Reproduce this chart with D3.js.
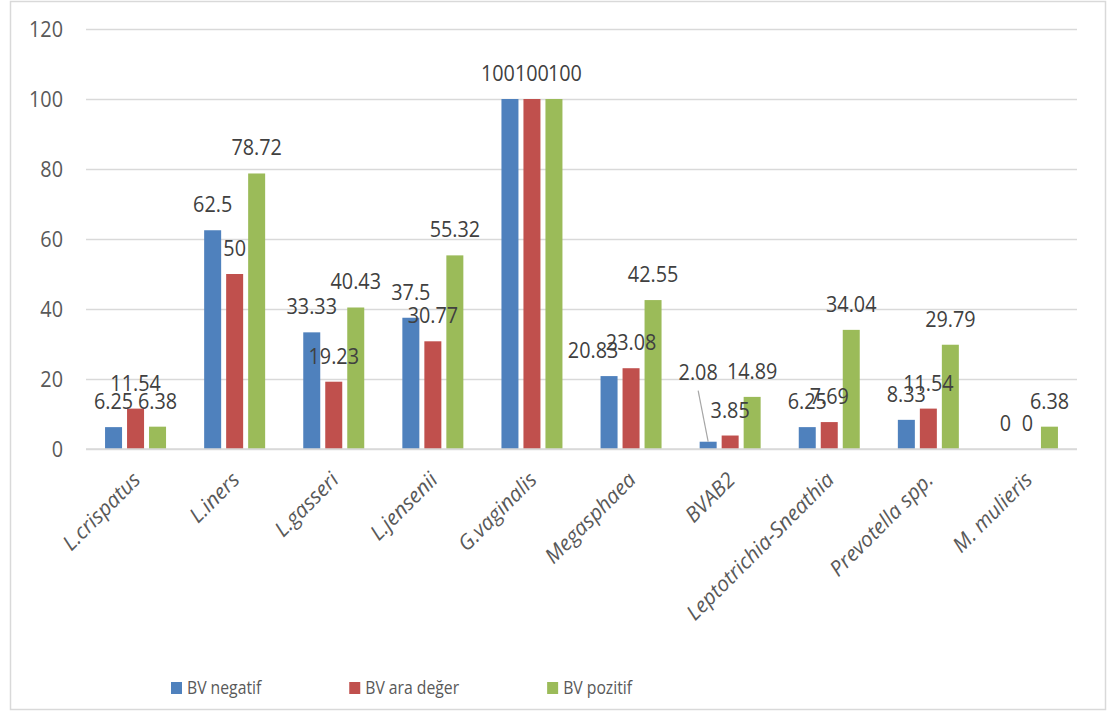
<!DOCTYPE html>
<html>
<head>
<meta charset="utf-8">
<script src="https://cdn.jsdelivr.net/npm/d3@7"></script>
<style>
  html, body { margin: 0; padding: 0; background: #fff; }
  svg { display: block; font-family: "Open Sans", "Noto Sans", sans-serif; }
</style>
</head>
<body>
<svg id="chart" width="1118" height="713"></svg>
<script>
// Bacteria detected per BV group (%)
const categories = ["L.crispatus", "L.iners", "L.gasseri", "L.jensenii", "G.vaginalis",
  "Megasphaea", "BVAB2", "Leptotrichia-Sneathia", "Prevotella spp.", "M. mulieris"];
const seriesNames = ["BV negatif", "BV ara değer", "BV pozitif"];
const bvNegatif = [6.25, 62.5, 33.33, 37.5, 100, 20.83, 2.08, 6.25, 8.33, 0];
const bvAraDeger = [11.54, 50, 19.23, 30.77, 100, 23.08, 3.85, 7.69, 11.54, 0];
const bvPozitif = [6.38, 78.72, 40.43, 55.32, 100, 42.55, 14.89, 34.04, 29.79, 6.38];
const yTicks = [0, 20, 40, 60, 80, 100, 120];

const seriesValues = [bvNegatif, bvAraDeger, bvPozitif];
const colors = ["#4F81BD", "#C0504D", "#9BBB59"];

const svg = d3.select("#chart");
const plot = { left: 86, right: 1077, top: 29, bottom: 449 };
const squeeze = 0.9; // narrow glyph width for upright texts

// outer chart frame
svg.append("rect")
  .attr("x", 10.5).attr("y", 1.5)
  .attr("width", 1095).attr("height", 708)
  .attr("fill", "#fff").attr("stroke", "#d9d9d9").attr("stroke-width", 1.5);

const x = d3.scaleBand().domain(categories).range([plot.left, plot.right]).padding(0);
const groupWidth = x.bandwidth() * 0.6155;
const xs = d3.scaleBand().domain(seriesNames)
  .range([(x.bandwidth() - groupWidth) / 2, (x.bandwidth() + groupWidth) / 2])
  .paddingInner(5 / 22).paddingOuter(0);
const y = d3.scaleLinear().domain([0, 120]).range([plot.bottom, plot.top]);

// horizontal gridlines and value axis labels
const yAxis = d3.axisLeft(y).tickValues(yTicks).tickSize(-(plot.right - plot.left)).tickPadding(23);
const gy = svg.append("g").attr("transform", `translate(${plot.left},0)`).call(yAxis);
gy.select(".domain").remove();
gy.selectAll(".tick line").attr("stroke", "#d9d9d9").attr("stroke-width", 1.5);
gy.selectAll(".tick text")
  .attr("x", 0)
  .attr("transform", `translate(-23,0) scale(${squeeze},1)`)
  .attr("fill", "#595959").style("font-size", "22px")
  .attr("font-family", "'Open Sans', sans-serif");

// bars
const rows = categories.map((c, i) => ({
  cat: c,
  vals: seriesNames.map((s, j) => ({ series: s, j, value: seriesValues[j][i], cat: c, i }))
}));

const groups = svg.append("g").selectAll("g")
  .data(rows).join("g")
  .attr("transform", d => `translate(${x(d.cat)},0)`);

groups.selectAll("rect")
  .data(d => d.vals).join("rect")
  .attr("x", d => xs(d.series))
  .attr("width", xs.bandwidth())
  .attr("y", d => y(d.value))
  .attr("height", d => y(0) - y(d.value))
  .attr("fill", d => colors[d.j]);

// category baseline
svg.append("line")
  .attr("x1", plot.left).attr("x2", plot.right)
  .attr("y1", y(0)).attr("y2", y(0))
  .attr("stroke", "#d9d9d9").attr("stroke-width", 1.5);

// label nudges where neighbouring labels collide (series index - category index)
const labelShift = {
  "0-4": { dx: -12, dy: 0 },
  "2-4": { dx: 11, dy: 0 },
  "0-5": { dx: -16, dy: 0 },
  "0-6": { dx: -10, dy: -44, leader: true }
};

const labelLayer = svg.append("g");
rows.forEach(r => r.vals.forEach(d => {
  const cx = x(d.cat) + xs(d.series) + xs.bandwidth() / 2;
  const top = y(d.value);
  const s = labelShift[`${d.j}-${d.i}`] || { dx: 0, dy: 0 };
  const lx = cx + s.dx, ly = top - 18 + s.dy;
  if (s.leader) {
    labelLayer.append("line")
      .attr("x1", lx).attr("y1", ly + 11)
      .attr("x2", cx).attr("y2", top)
      .attr("stroke", "#a6a6a6").attr("stroke-width", 1.2);
  }
  labelLayer.append("text")
    .attr("transform", `translate(${lx},${ly}) scale(${squeeze},1)`)
    .attr("text-anchor", "middle")
    .attr("fill", "#404040")
    .style("font-size", "22px")
    .text(d3.format("~")(d.value));
}));

// rotated category labels
svg.append("g").selectAll("text")
  .data(categories).join("text")
  .attr("transform", d => `translate(${x(d) + x.bandwidth() / 2 + 1},476) rotate(-45)`)
  .attr("text-anchor", "end")
  .attr("dy", "0.35em")
  .attr("fill", "#595959")
  .style("font-size", "21px")
  .style("font-style", "italic")
  .text(d => d);

// legend
const legend = svg.append("g").attr("transform", "translate(171,688)");
let legendX = 0;
seriesNames.forEach((name, j) => {
  const item = legend.append("g").attr("transform", `translate(${legendX},0)`);
  item.append("rect").attr("x", 0).attr("y", -6).attr("width", 11).attr("height", 12).attr("fill", colors[j]);
  const t = item.append("text")
    .attr("transform", `translate(16,0) scale(${squeeze},1)`)
    .attr("dy", "0.35em")
    .attr("fill", "#595959").style("font-size", "17.5px").text(name);
  legendX += 16 + t.node().getComputedTextLength() * squeeze + 88;
});
</script>
</body>
</html>
